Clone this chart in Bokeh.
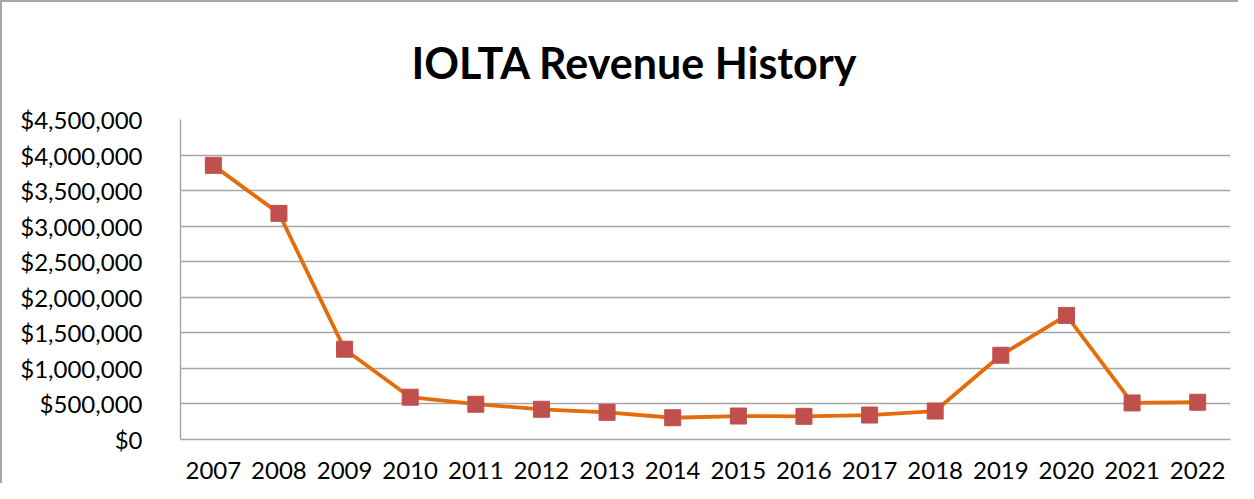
from bokeh.plotting import figure
from bokeh.models import NumeralTickFormatter, SingleIntervalTicker
from bokeh.embed import file_html
from bokeh.resources import INLINE

years = ["2007", "2008", "2009", "2010", "2011", "2012", "2013", "2014",
         "2015", "2016", "2017", "2018", "2019", "2020", "2021", "2022"]
revenue = [3855000, 3180000, 1270000, 595000, 496000, 425000, 382000, 306000,
           330000, 326000, 344000, 400000, 1185000, 1745000, 514000, 524000]
title_text = "IOLTA Revenue History"

FONT = "Lato"
GRID = "#A6A6A6"

p = figure(x_range=years, y_range=(0, 4500000), width=1238, height=483,
           output_backend="svg", toolbar_location=None,
           min_border_left=178, min_border_right=10, min_border_top=117,
           min_border_bottom=46)
p.x_range.range_padding = 0
p.outline_line_color = None
p.background_fill_color = "white"
p.border_fill_color = "white"

p.title.text = title_text
p.title.align = "left"
p.title.offset = 231
p.title.standoff = 64
p.title.text_font = FONT
p.title.text_font_size = "43px"
p.title.text_font_style = "bold"
p.title.text_color = "black"

p.line(years, revenue, line_color="#E46C0A", line_width=3.8)
p.scatter(years, revenue, marker="square", size=16, fill_color="#C0504D",
          line_color="#C0504D")

p.xgrid.grid_line_color = None
p.ygrid.grid_line_color = GRID
p.ygrid.grid_line_width = 1.4

p.yaxis.ticker = SingleIntervalTicker(interval=500000)
p.yaxis.formatter = NumeralTickFormatter(format="$0,0")
for ax in (p.xaxis[0], p.yaxis[0]):
    ax.axis_line_color = GRID
    ax.axis_line_width = 1.4
    ax.major_tick_line_color = None
    ax.minor_tick_line_color = None
    ax.major_label_text_font = FONT
    ax.major_label_text_font_size = "24px"
    ax.major_label_text_color = "black"
p.yaxis.major_label_standoff = 32
p.xaxis.major_label_standoff = 16

p.styles = {"border-left": "2px solid #A6A6A6", "border-top": "2px solid #A6A6A6"}

open("out.html", "w").write(file_html(p, INLINE))
